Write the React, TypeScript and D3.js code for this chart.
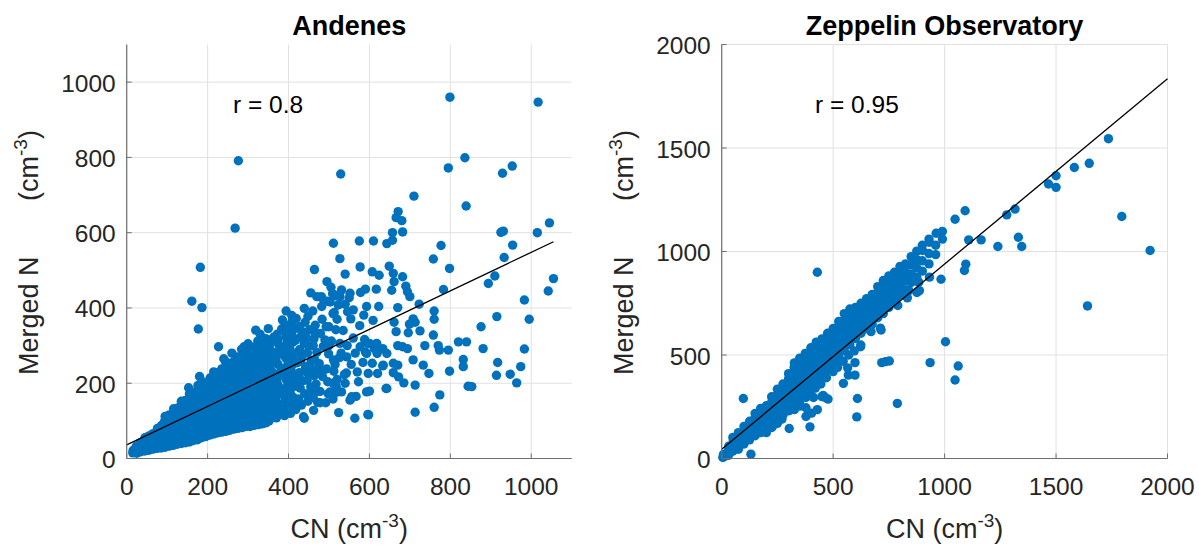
import React from 'react';
import * as d3 from 'd3';

type P = [number, number];

const andenesTitle = 'Andenes';
const zeppelinTitle = 'Zeppelin Observatory';
const andenesRText = 'r = 0.8';
const zeppelinRText = 'r = 0.95';
const andenesXTicks = [0, 200, 400, 600, 800, 1000];
const andenesYTicks = [0, 200, 400, 600, 800, 1000];
const zeppelinXTicks = [0, 500, 1000, 1500, 2000];
const zeppelinYTicks = [0, 500, 1000, 1500, 2000];
const andenesDomain: P = [0, 1100];
const zeppelinDomain: P = [0, 2000];
const andenesFit: P[] = [[0, 36], [1055, 576]];
const zeppelinFit: P[] = [[0, 45], [2000, 1834]];

// dense core of the Andenes cloud, read column by column
const andenesCore: P[] = [
  [15,15],[16,22],
  [25,14],[26,25],[24,33],
  [35,18],[36,30],[34,42],
  [45,20],[46,33],[44,46],[45,55],
  [55,22],[56,35],[54,48],[55,60],
  [65,25],[66,38],[64,52],[65,66],
  [75,27],[76,40],[74,55],[75,70],[76,80],
  [85,28],[86,43],[84,58],[85,73],[86,88],
  [95,30],[96,45],[94,60],[95,75],[96,90],[94,100],[95,112],
  [105,33],[106,48],[104,63],[105,78],[106,93],[104,108],[105,116],
  [115,35],[116,50],[114,65],[115,80],[116,95],[114,110],[115,120],[116,132],
  [125,38],[126,53],[124,68],[125,83],[126,98],[124,113],[125,128],[126,134],
  [135,40],[136,55],[134,70],[135,85],[136,100],[134,115],[135,130],[136,140],[135,152],
  [145,42],[146,57],[144,72],[145,87],[146,102],[144,117],[145,132],[146,147],[145,154],
  [155,44],[156,60],[154,75],[155,90],[156,105],[154,120],[155,135],[156,150],[154,160],[155,172],
  [165,48],[166,63],[164,78],[165,93],[166,108],[164,123],[165,138],[166,153],[164,168],[165,176],
  [175,50],[176,65],[174,80],[175,95],[176,110],[174,125],[175,140],[176,155],[174,170],[175,180],[176,194],
  [185,55],[186,70],[184,85],[185,100],[186,115],[184,130],[185,145],[186,160],[184,175],[185,188],[186,205],
  [195,58],[196,73],[194,88],[195,103],[196,118],[194,133],[195,148],[196,163],[194,178],[195,193],[196,200],
  [205,62],[206,77],[204,92],[205,107],[206,122],[204,137],[205,152],[206,167],[204,182],[205,197],[206,214],
  [215,65],[216,80],[214,95],[215,110],[216,125],[214,140],[215,155],[216,170],[214,185],[215,200],[216,212],[215,230],
  [225,68],[226,83],[224,98],[225,113],[226,128],[224,143],[225,158],[226,173],[224,188],[225,203],[226,218],[225,228],
  [235,70],[236,85],[234,100],[235,115],[236,130],[234,145],[235,160],[236,175],[234,190],[235,205],[236,220],[235,238],
  [245,72],[246,88],[244,103],[245,118],[246,133],[244,148],[245,163],[246,178],[244,193],[245,208],[246,223],[245,238],[244,258],
  [255,75],[256,90],[254,105],[255,120],[256,135],[254,150],[255,165],[256,180],[254,195],[255,210],[256,225],[255,240],[254,252],
  [265,78],[266,93],[264,108],[265,123],[266,138],[264,153],[265,168],[266,183],[264,198],[265,213],[266,228],[265,245],[264,257],
  [275,80],[276,95],[274,110],[275,125],[276,140],[274,155],[275,170],[276,185],[274,200],[275,215],[276,230],[275,250],[274,270],
  [285,82],[286,98],[284,113],[285,128],[286,143],[284,158],[285,173],[286,188],[284,203],[285,218],[286,233],[285,255],[284,290],
  [295,85],[296,100],[294,115],[295,130],[296,145],[294,160],[295,175],[296,190],[294,205],[295,220],[296,240],[295,262],[294,278],
  [305,85],[306,103],[304,118],[305,133],[306,148],[304,163],[305,178],[306,193],[304,208],[305,225],[306,245],[305,265],[304,282],
  [315,88],[316,105],[314,120],[315,135],[316,150],[314,165],[315,180],[316,195],[314,210],[315,230],[316,250],[315,272],[314,296],
  [325,90],[326,108],[324,125],[325,140],[326,155],[324,170],[325,185],[326,200],[324,215],[325,235],[326,258],[325,282],[324,312],
  [335,92],[336,112],[334,128],[335,145],[336,160],[334,175],[335,190],[336,210],[334,228],[335,245],[336,265],[335,285],[334,300],
  [345,95],[346,115],[344,132],[345,150],[346,165],[344,182],[345,200],[346,218],[344,235],[345,255],[346,272],[345,295],[344,318],
  [180,218],[240,265],[260,280],[300,305],[330,330],[350,345],
  [352,100],[362,124],[355,150],[366,172],[350,196],[361,222],[354,246],[366,270],[352,298],[363,322],
  [356,110],[358,135],[357,160],[359,185],[356,208],[358,232],[357,258],[359,284],[356,310],
  [370,108],[378,134],[368,160],[380,186],[372,212],[382,238],[369,262],[379,292],[374,316],[383,344],
  [375,120],[374,147],[376,173],[373,198],[376,225],[374,250],[377,277],[375,304],[372,330],
  [390,114],[396,142],[388,168],[398,196],[391,226],[399,252],[389,282],[397,310],[392,338],[385,368],[394,392],
  [392,128],[393,155],[391,182],[394,210],[392,240],[393,267],[391,296],[394,324],[392,355],
  [405,120],[410,150],[404,176],[412,206],[406,236],[411,266],[403,296],[409,326],[404,354],[408,380],
  [410,135],[411,163],[409,191],[412,221],[410,250],[408,280],[411,310],[410,340],[409,365],
  [418,130],[425,158],[419,192],[426,220],[420,254],[424,284],[417,314],[423,346],[419,372],
  [428,148],[429,187],[427,228],[430,258],[428,290],[429,322],[427,350],
  [432,142],[440,172],[434,206],[442,244],[433,272],[439,306],[436,336],[441,362],
  [445,170],[446,208],[444,240],[447,280],[445,320],
  [448,152],[455,190],[447,228],[456,258],[450,298],[452,342],[448,378],
  [462,128],[468,198],[461,236],[470,282],[463,318],[466,354],[460,392],
  [462,180],[463,220],[465,262],[461,300],[464,336],
  [478,178],[484,218],[476,252],[486,298],[479,332],[483,370],
  [492,148],[497,204],[494,238],[499,278],[493,350],[496,418],
  [508,168],[512,232],[506,312],[513,388],[509,438],
  [524,122],[518,192],[526,268],[517,342],[523,408],
];

// scattered Andenes points outside the core
const andenesSparse: P[] = [
  [799,960],[1017,947],[276,791],[529,756],[836,799],[795,772],[929,758],[953,777],[710,697],[839,671],[268,612],
  [671,656],[666,640],[680,632],[682,602],[657,600],[925,601],[931,604],[1015,600],[1045,626],
  [1055,478],[1042,445],[983,421],[995,370],[983,291],
  [954,567],[933,534],[910,485],[894,465],[915,377],[876,350],[881,292],[917,255],[914,221],[948,224],[974,244],[964,201],
  [777,566],[758,530],[798,505],[783,449],[760,392],[760,370],[758,328],[737,300],[770,300],[773,288],[795,288],[820,310],[840,310],
  [832,263],[832,244],[798,232],[844,192],[853,191],[774,169],[760,136],[747,226],[733,248],[708,262],[713,195],[713,123],
  [641,186],[633,246],[600,179],[598,116],[564,107],[555,160],[567,165],[596,117],
  [649,511],[659,492],[682,483],[661,470],[655,447],[690,458],[694,443],[700,430],[670,401],[723,410],[661,362],[708,371],
  [699,357],[713,362],[725,339],[696,334],[666,337],[682,297],[670,300],[694,292],[670,248],[659,228],[672,217],[685,201],
  [511,572],[527,531],[575,578],[610,578],[643,571],[657,580],[577,509],[607,496],[624,487],[540,490],[464,502],
  [590,450],[617,450],[531,448],[518,432],[550,427],[578,441],[482,427],[482,404],[623,404],[593,404],[586,381],[609,367],
  [576,353],[554,371],[546,390],[588,316],[600,306],[612,292],[619,279],[633,292],[590,283],[584,255],[543,227],[538,223],
  [510,200],[498,172],[519,176],[510,158],[472,149],[439,107],[461,162],[437,111],
  [161,418],[186,401],[177,344],[182,508],[153,188],[319,341],[290,297],[227,297],[439,399],
  [481,430],[503,416],[527,430],[552,439],[573,204],[556,164],[531,177],[503,177],[478,148],[466,177],[457,226],[478,235],
  [511,262],[544,270],[527,306],[577,297],[597,306],[593,279],[618,306],[607,253],[634,248],[659,253],[643,279],[620,226],
  [597,226],[643,186],[552,155],[593,177],
  [500,350],[520,370],[535,340],[560,320],[545,300],[500,300],[490,315],[515,250],[530,280],[555,250],[565,280],[570,230],
  [540,200],[520,210],[510,385],[470,430],[455,440],[540,410],[560,395],[505,455],[495,470],
];

// dense band of the Zeppelin cloud, read column by column
const zeppelinBand: P[] = [
  [5,5],[12,10],[8,20],
  [30,15],[30,40],[32,60],
  [50,35],[50,60],[52,85],[50,102],
  [75,45],[75,70],[76,95],[75,125],
  [100,70],[100,100],[101,128],[100,155],
  [125,90],[125,120],[126,150],[125,180],
  [150,110],[150,140],[151,170],[150,198],[150,218],
  [175,125],[175,160],[176,190],[175,218],[175,242],
  [200,125],[200,160],[201,190],[200,220],[200,255],
  [225,150],[225,185],[226,215],[225,245],[225,275],[224,298],
  [250,185],[250,220],[251,250],[250,280],[250,310],[250,335],
  [275,210],[275,240],[276,270],[275,300],[275,330],[275,360],
  [300,230],[300,262],[301,292],[300,322],[300,352],[300,385],[300,410],
  [325,255],[325,285],[326,315],[325,345],[325,375],[325,405],[325,440],[326,462],
  [350,275],[350,305],[351,335],[350,365],[350,395],[350,425],[350,455],[350,485],
  [375,300],[375,330],[376,360],[375,390],[375,420],[375,450],[375,478],[375,508],
  [400,330],[400,360],[401,390],[400,420],[400,450],[400,480],[400,510],[400,535],
  [425,360],[425,390],[426,420],[425,450],[425,480],[425,510],[425,540],[424,562],
  [450,400],[450,430],[451,460],[450,490],[450,520],[450,550],[450,578],
  [475,430],[475,460],[476,490],[475,520],[475,550],[475,580],[475,605],
  [500,460],[500,490],[501,520],[500,550],[500,580],[500,610],[500,628],
  [525,490],[525,520],[526,550],[525,580],[525,610],[525,640],[525,662],
  [550,520],[550,550],[551,580],[550,610],[550,640],[550,670],[550,700],
  [575,550],[575,580],[576,610],[575,640],[575,670],[575,700],[575,722],
  [600,580],[600,610],[601,640],[600,670],[600,700],[600,730],
  [625,605],[625,635],[626,665],[625,695],[625,725],[625,750],
  [650,630],[650,660],[651,690],[650,720],[650,750],[650,772],
  [675,650],[675,680],[676,710],[675,740],[675,770],[675,792],
  [700,680],[700,710],[701,740],[700,770],[700,800],[700,830],
  [725,700],[725,735],[726,770],[725,800],[725,840],[725,860],
  [750,730],[750,770],[751,800],[750,830],[750,865],[750,882],
  [775,760],[775,800],[776,835],[775,870],[775,900],
  [800,790],[800,830],[801,870],[800,905],[800,928],
  [825,815],[825,860],[826,900],[825,940],
  [850,850],[850,890],[851,935],[850,975],
  [875,875],[875,920],[876,960],[875,1002],
  [900,905],[900,955],[901,1005],[900,1030],
  [930,940],[930,990],[931,1045],[930,1060],
  [960,985],[960,1030],[962,1088],
  [990,1060],[990,1097],
];

// scattered Zeppelin points outside the band
const zeppelinSparse: P[] = [
  [1735,1545],[1649,1426],[1582,1406],[1500,1366],[1466,1326],[1500,1310],[1795,1169],[1922,1005],[1641,737],
  [1316,1205],[1279,1177],[1331,1069],[1346,1024],[1239,1024],[1164,1056],[1108,1056],[1092,1197],[1047,1156],
  [1095,939],[1089,908],[984,866],[932,876],[1004,564],[1061,447],[1047,379],[935,463],[752,471],[718,463],[735,468],
  [788,266],[606,201],[609,290],[598,463],[598,403],[546,363],[568,403],[565,438],[429,900],[97,290],[131,21],[303,145],[396,153],
  [624,548],[670,613],[715,621],[661,624],[712,630],[623,540],[524,481],[481,439],[415,363],[438,371],[378,295],[450,299],
  [887,811],[840,811],[790,739],[878,855],[721,743],[781,768],[833,776],[876,802],[884,852],
  [352,253],[378,245],[403,219],[412,295],[429,236],[455,304],[464,295],[477,287],[378,203],[326,236],
  [340,300],[360,320],[390,330],[420,340],[445,360],[470,390],[500,420],[520,440],[545,470],[570,500],[595,520],
  [250,170],[270,190],[230,160],
];

const FONT = '"Liberation Sans", Arial, Helvetica, sans-serif';
const TXT = '#262626';
const BLUE = '#0072BD';

type PanelProps = {
  x0: number; x1: number; y0: number; y1: number;
  domain: P; xTicks: number[]; yTicks: number[];
  points: P[]; fit: P[]; title: string; rText: string; rPx: P;
};

function Panel(p: PanelProps) {
  const xs = d3.scaleLinear().domain(p.domain).range([p.x0, p.x1]);
  const ys = d3.scaleLinear().domain(p.domain).range([p.y1, p.y0]);
  const line = d3.line<P>().x(d => xs(d[0])).y(d => ys(d[1]));
  const cx = (p.x0 + p.x1) / 2;
  const labelX = p.x0 - 88.5;
  return (
    <g>
      {p.xTicks.map(t => (
        <line key={'gx' + t} x1={xs(t)} x2={xs(t)} y1={p.y0} y2={p.y1} stroke="#e1e1e1" strokeWidth={1} />
      ))}
      {p.yTicks.map(t => (
        <line key={'gy' + t} x1={p.x0} x2={p.x1} y1={ys(t)} y2={ys(t)} stroke="#e1e1e1" strokeWidth={1} />
      ))}
      {p.points.map((d, i) => (
        <circle key={i} cx={xs(d[0])} cy={ys(d[1])} r={4.7} fill={BLUE} />
      ))}
      <path d={line(p.fit) || ''} stroke="#000" strokeWidth={1.3} fill="none" />
      <line x1={p.x0} x2={p.x0} y1={p.y0} y2={p.y1} stroke="#6f6f6f" strokeWidth={1.2} />
      <line x1={p.x0} x2={p.x1} y1={p.y1} y2={p.y1} stroke="#6f6f6f" strokeWidth={1.2} />
      {p.xTicks.map(t => (
        <line key={'tx' + t} x1={xs(t)} x2={xs(t)} y1={p.y1} y2={p.y1 - 5} stroke="#6f6f6f" strokeWidth={1} />
      ))}
      {p.yTicks.map(t => (
        <line key={'ty' + t} x1={p.x0} x2={p.x0 + 5} y1={ys(t)} y2={ys(t)} stroke="#6f6f6f" strokeWidth={1} />
      ))}
      {p.xTicks.map(t => (
        <text key={'lx' + t} x={xs(t)} y={495} textAnchor="middle" fontSize={24.5} fill={TXT} fontFamily={FONT}>{t}</text>
      ))}
      {p.yTicks.map(t => (
        <text key={'ly' + t} x={p.x0 - 11} y={ys(t) + 9.5} textAnchor="end" fontSize={24.5} fill={TXT} fontFamily={FONT}>{t}</text>
      ))}
      <text x={cx} y={35} textAnchor="middle" fontSize={27} fontWeight="bold" fill="#000" fontFamily={FONT}>{p.title}</text>
      <text x={p.rPx[0]} y={p.rPx[1]} fontSize={24.5} fill="#000" fontFamily={FONT}>{p.rText}</text>
      <text x={cx} y={538} textAnchor="middle" fontSize={27} fill={TXT} fontFamily={FONT}>
        CN (cm<tspan fontSize={19} dy={-11}>-3</tspan><tspan dy={11}>)</tspan>
      </text>
      <g transform={`translate(${labelX},375) rotate(-90)`}>
        <text x={0} y={0} fontSize={27} fill={TXT} fontFamily={FONT}>Merged N</text>
        <text x={174} y={0} fontSize={27} fill={TXT} fontFamily={FONT}>
          (cm<tspan fontSize={19} dy={-11}>-3</tspan><tspan dy={11}>)</tspan>
        </text>
      </g>
    </g>
  );
}

export default function App() {
  return (
    <div style={{ position: 'absolute', left: 0, top: 0 }}>
      <svg width={1199} height={546} style={{ display: 'block', background: '#fff' }}>
        <Panel x0={126.7} x1={571.7} y0={44.5} y1={458.5} domain={andenesDomain}
          xTicks={andenesXTicks} yTicks={andenesYTicks} points={[...andenesCore, ...andenesSparse]}
          fit={andenesFit} title={andenesTitle} rText={andenesRText} rPx={[233, 112.5]} />
        <Panel x0={721.7} x1={1167.5} y0={44.5} y1={458.5} domain={zeppelinDomain}
          xTicks={zeppelinXTicks} yTicks={zeppelinYTicks} points={[...zeppelinBand, ...zeppelinSparse]}
          fit={zeppelinFit} title={zeppelinTitle} rText={zeppelinRText} rPx={[815, 112.5]} />
      </svg>
    </div>
  );
}
